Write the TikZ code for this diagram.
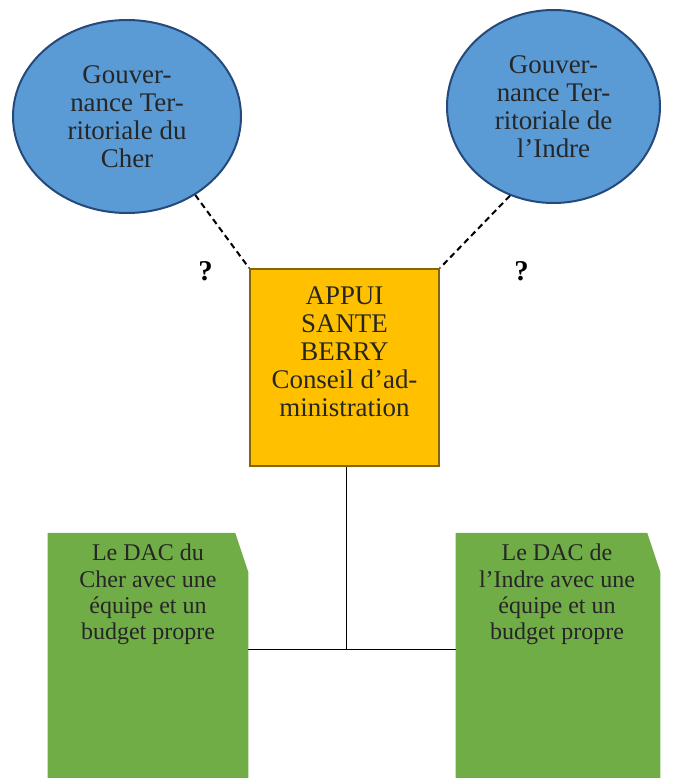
\documentclass[tikz,border=0pt]{standalone}
\usepackage{fontspec}
\setmainfont{Liberation Serif}
\usepackage{xcolor}
\usepackage{tikz}
\usetikzlibrary{shapes.geometric}

\definecolor{gtblue}{HTML}{5B9BD5}
\definecolor{gtline}{HTML}{24497A}
\definecolor{asbfill}{HTML}{FFC000}
\definecolor{asbline}{HTML}{866600}
\definecolor{dacgreen}{HTML}{70AD47}
\definecolor{txtgray}{HTML}{262626}

\tikzset{
  gouv/.style={ellipse,draw=gtline,fill=gtblue,line width=1.5pt,inner sep=0pt,
    align=center,text=txtgray,font=\fontsize{20.2}{21}\selectfont},
  asbbox/.style={draw=asbline,fill=asbfill,line width=1.5pt,minimum width=141.75pt,minimum height=147.75pt},
  dacbox/.style={inner sep=0pt,minimum height=200pt},
  boxtext/.style={inner sep=0pt,align=center,text=txtgray,font=\fontsize{20.2}{21}\selectfont},
  dactext/.style={boxtext,font=\fontsize{18}{19.7}\selectfont},
  qmark/.style={inner sep=0pt,font=\fontsize{21.5}{22}\selectfont\bfseries},
  liaison/.style={dash pattern=on 4.5pt off 3pt,line width=1.5pt},
  trait/.style={line width=0.75pt}
}

\begin{document}
\begin{tikzpicture}[x=0.75pt,y=-0.75pt]
        \useasboundingbox (0,0) rectangle (672,778);
        \clip (0,0) rectangle (672,778);
        \node[gouv,minimum width=171pt,minimum height=144.75pt] (GTC) at (127,116.5) {Gouver-\\nance Ter-\\ritoriale du\\Cher};
        \node[gouv,minimum width=159.75pt,minimum height=144.75pt] (GTI) at (553.5,106.5) {Gouver-\\nance Ter-\\ritoriale de\\l’Indre};

        \node[asbbox] (ASB) at (344.5,367.5) {};
        \node[boxtext,anchor=north] (ASBtxt) at (344.5,286) {APPUI\\SANTE\\BERRY\\Conseil d’ad-\\ministration};

        % blocs DAC, coin haut droit coupe
        \node[dacbox,minimum width=150pt] (DACC) at (148,666.5) {};
        \node[dacbox,minimum width=153pt] (DACI) at (558,666.5) {};
        \foreach \d in {DACC,DACI}
          \fill[dacgreen] (\d.north west) -- ([xshift=-9.75pt]\d.north east) -- ([yshift=-29.25pt]\d.north east)
            -- (\d.south east) -- (\d.south west) -- cycle;
        \node[dactext,anchor=north] (DACCtxt) at (148,544) {Le DAC du\\Cher avec une\\équipe et un\\budget propre};
        \node[dactext,anchor=north] (DACItxt) at (557,544) {Le DAC de\\l’Indre avec une\\équipe et un\\budget propre};

        \node[qmark] (QC) at (205.5,271.5) {?};
        \node[qmark] (QI) at (521.5,271.5) {?};

        \coordinate (J) at (346,649);
        \draw[liaison] (GTC.-49) -- (ASB.north west);
        \draw[liaison] (GTI.244) -- (ASB.north east);
        \draw[trait] (ASB.south -| J) -- (J);
        \draw[trait] (DACC.east |- J) -- (DACI.west |- J);
\end{tikzpicture}
\end{document}
